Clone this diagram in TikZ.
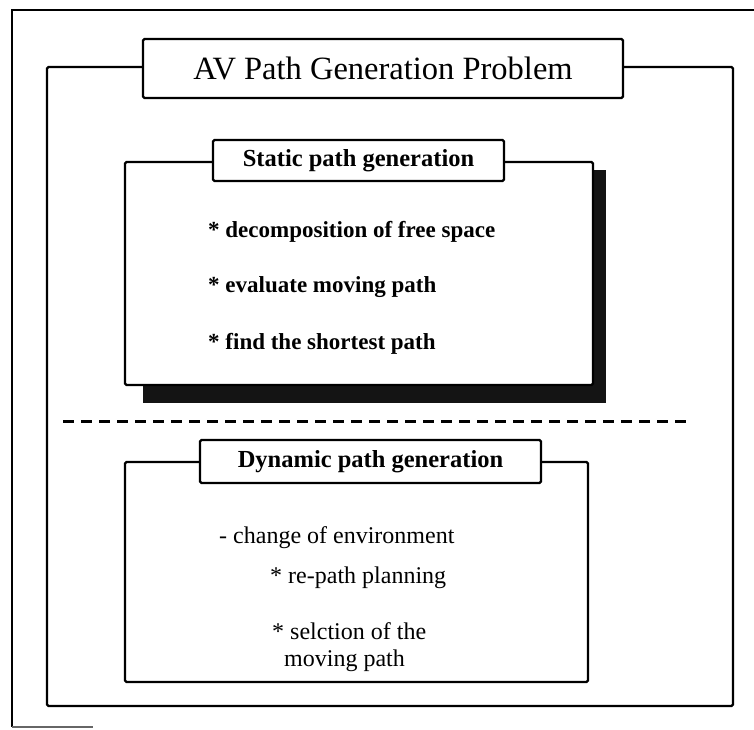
\documentclass[tikz,border=0pt]{standalone}
\usepackage{fontspec}
\setmainfont{Liberation Serif}

\begin{document}
\begin{tikzpicture}
[x=1pt, y=-1pt,
 frame/.style={line width=2.2pt, draw=black, fill=white, rounded corners=1.5pt, inner sep=0pt},
 maintitle/.style={frame, font=\fontsize{32.5}{38}\selectfont},
 titlebox/.style={frame, font=\bfseries\fontsize{24.5}{29}\selectfont},
 shadow/.style={fill=black!92, draw=none, inner sep=0pt},
 itema/.style={anchor=base west, inner sep=0pt, font=\bfseries\fontsize{23}{27}\selectfont},
 itemb/.style={anchor=base west, inner sep=0pt, font=\fontsize{24}{27}\selectfont},
 dashline/.style={line width=3pt, dash pattern=on 11pt off 7pt}]
\useasboundingbox (0,0) rectangle (754,729);
% outer border
\coordinate (otr) at (754,10);
\coordinate (otl) at (12,10);
\coordinate (obl) at (12,727);
\coordinate (obr) at (93,727);
\draw[line width=1.8pt] (otr) -- (otl) -- (obl);
\draw[line width=1.2pt, black!60] (obl) -- (obr);
% main frame
\node[frame, minimum width=686pt, minimum height=639pt] (avframe) at (390,386.5) {};
\node[maintitle, minimum width=480pt, minimum height=59pt] (avtitle) at (383,68.5) {AV Path Generation Problem};
% static part
\node[shadow, minimum width=463pt, minimum height=233pt] (statshadow) at (374.5,286.5) {};
\node[frame, minimum width=468pt, minimum height=223pt] (statframe) at (359,273.5) {};
\node[titlebox, minimum width=291pt, minimum height=41pt] (stattitle) at (358.5,160.5) {Static path generation};
\node[itema] (s1) at (208,237) {* decomposition of free space};
\node[itema] (s2) at (208,292) {* evaluate moving path};
\node[itema] (s3) at (208,349) {* find the shortest path};
% separator
\coordinate (dashl) at (63,421);
\coordinate (dashr) at (690,421);
\draw[dashline] (dashl) -- (dashr);
% dynamic part
\node[frame, minimum width=463pt, minimum height=220pt] (dynframe) at (356.5,572) {};
\node[titlebox, minimum width=341pt, minimum height=43pt] (dyntitle) at (370.5,461.5) {Dynamic path generation};
\node[itemb] (d0) at (219,543) {- change of environment};
\node[itemb] (d1) at (270,583) {* re-path planning};
\node[itemb] (d2) at (272,639) {* selction of the};
\node[itemb] (d3) at (284,666) {moving path};
\end{tikzpicture}
\end{document}
